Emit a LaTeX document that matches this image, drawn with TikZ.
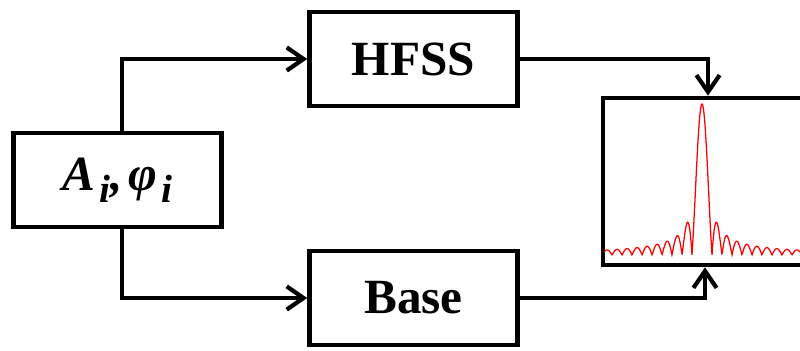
\documentclass[tikz,border=0pt]{standalone}
\usepackage{fontspec}
\usepackage{amsmath}
\setmainfont{Liberation Serif}
\usetikzlibrary{positioning, arrows.meta}

\tikzset{
  blok/.style={draw, line width=3.2pt, minimum width=5.2cm, minimum height=2.35cm,
    font=\fontsize{35}{40}\selectfont\bfseries},
  fleche/.style={line width=3pt, -{Straight Barb[length=0.42cm, width=0.58cm]}},
  courbe/.style={red, line width=0.9pt}
}
\newcommand{\indice}[1]{\kern0.08em\raisebox{-0.25em}{\fontsize{28}{28}\selectfont #1}}

\begin{document}
\begin{tikzpicture}[x=0.025cm, y=-0.025cm]

\useasboundingbox (0,0) rectangle (800,350);

% ---------- BLOCS ----------

\node[blok] (entree) at (117.5,180) {\itshape A\indice{i},\kern0.12em φ\indice{i}};
\node[blok] (hfss) at (413.5,59) {HFSS};
\node[blok] (base) at (413.5,298) {Base};
\node[draw, line width=3.2pt, minimum width=5.1cm, minimum height=4.18cm] (spectre) at (705,181.5) {};

% ---------- DIAGRAMME ----------

\draw[courbe] plot[domain=-98:98, samples=500]
  ({702+\x}, {255 - 151*abs(sin(18*\x)/(0.31416*\x))});

% ---------- LIAISONS ----------

\coordinate (e_haut) at ([xshift=0.11cm]entree.north);
\coordinate (e_bas) at ([xshift=0.11cm]entree.south);
\coordinate (s_haut) at ([xshift=0.075cm]spectre.north);
\coordinate (s_bas) at (spectre.south);

\draw[fleche] (e_haut) |- (hfss.west);
\draw[fleche] (e_bas) |- (base.west);
\draw[fleche] (hfss.east) -| (s_haut);
\draw[fleche] (base.east) -| (s_bas);

\end{tikzpicture}
\end{document}
